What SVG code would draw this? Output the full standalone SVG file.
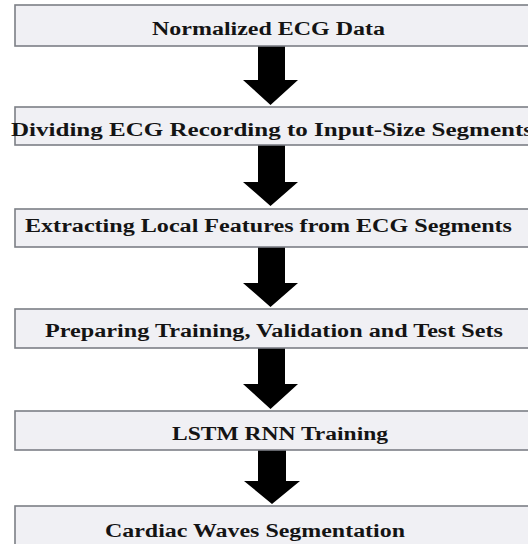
<svg xmlns="http://www.w3.org/2000/svg" width="528" height="544" viewBox="0 0 528 544">
  <style>
    .box { fill: #f0f0f4; stroke: #7c7f86; stroke-width: 1.6; }
    .label { font-family: "Liberation Serif", "Times New Roman", serif; font-weight: bold; font-size: 18px; fill: #141414; }
    .arrow { fill: #000000; }
  </style>
  <rect width="528" height="544" fill="#ffffff"/>

  <g id="connectors">
    <path class="arrow" d="M258 46 H285 V80 H298 L270.5 105 L243 80 H258 Z"/>
    <path class="arrow" d="M258 145 H285 V182 H298 L270.5 206 L243 182 H258 Z"/>
    <path class="arrow" d="M258 247 H285 V283 H298 L270.5 307 L243 283 H258 Z"/>
    <path class="arrow" d="M258 348 H285 V384 H298 L270.5 409 L243 384 H258 Z"/>
    <path class="arrow" d="M258 449 H286 V481 H300 L272 504 L244 481 H258 Z"/>
  </g>

  <g id="node-normalized">
    <rect class="box" x="15" y="5" width="520" height="41"/>
    <text class="label" x="152" y="35" textLength="233" lengthAdjust="spacingAndGlyphs">Normalized  ECG Data</text>
  </g>

  <g id="node-dividing">
    <rect class="box" x="15" y="107" width="520" height="38"/>
    <text class="label" x="11" y="136" textLength="522" lengthAdjust="spacingAndGlyphs">Dividing  ECG Recording  to Input-Size  Segments</text>
  </g>

  <g id="node-extracting">
    <rect class="box" x="15" y="209" width="520" height="38"/>
    <text class="label" x="25" y="232" textLength="487" lengthAdjust="spacingAndGlyphs">Extracting Local Features from  ECG Segments</text>
  </g>

  <g id="node-preparing">
    <rect class="box" x="15" y="309" width="520" height="39"/>
    <text class="label" x="45" y="337" textLength="458" lengthAdjust="spacingAndGlyphs">Preparing  Training,  Validation  and  Test Sets</text>
  </g>

  <g id="node-lstm">
    <rect class="box" x="15" y="411" width="520" height="39"/>
    <text class="label" x="172" y="440" textLength="216" lengthAdjust="spacingAndGlyphs">LSTM RNN Training</text>
  </g>

  <g id="node-cardiac">
    <rect class="box" x="15" y="506" width="520" height="50"/>
    <text class="label" x="105" y="537" textLength="300" lengthAdjust="spacingAndGlyphs">Cardiac  Waves Segmentation</text>
  </g>
</svg>
